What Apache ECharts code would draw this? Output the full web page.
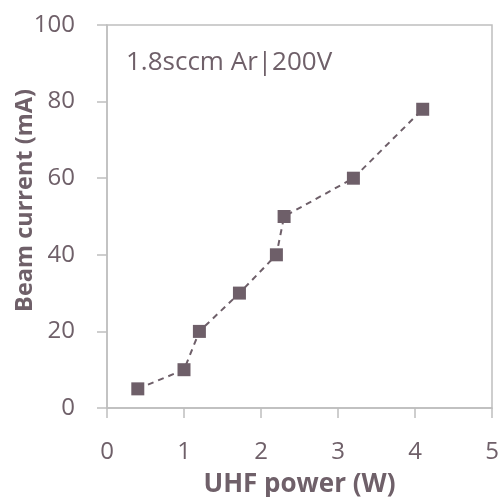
<!DOCTYPE html>
<html><head><meta charset="utf-8">
<script src="https://cdn.jsdelivr.net/npm/echarts@6/dist/echarts.min.js"></script>
<style>html,body{margin:0;padding:0;background:#fff}#c{width:499px;height:497px}</style>
</head><body><div id="c"></div>
<script>
const powerW = [0.4, 1.0, 1.2, 1.72, 2.2, 2.3, 3.2, 4.1];
const beamCurrent = [5, 10, 20, 30, 40, 50, 60, 78];
const annotation = '1.8sccm Ar|200V';
const xName = 'UHF power (W)';
const yName = 'Beam current (mA)';

const txt = '#6f6069';
const axisC = '#bfbfbf';
const font = '"Open Sans", "Noto Sans", sans-serif';
const chart = echarts.init(document.getElementById('c'));
chart.setOption({
  animation: false,
  grid: {left: 107, top: 25, right: 7, bottom: 89, outerBoundsMode: 'none', containLabel: false,
         show: true, borderColor: axisC, borderWidth: 1.5},
  xAxis: {
    type: 'value', min: 0, max: 5, interval: 1,
    name: xName, nameLocation: 'middle', nameGap: 64, nameMoveOverlap: false,
    nameTextStyle: {color: txt, fontSize: 26, fontWeight: 'bold', fontFamily: font},
    axisLine: {lineStyle: {color: axisC, width: 1.5}},
    axisTick: {show: true, inside: false, length: 10, lineStyle: {color: axisC, width: 1.5}},
    axisLabel: {color: txt, fontSize: 24, fontFamily: font, margin: 32},
    splitLine: {show: false}
  },
  yAxis: {
    type: 'value', min: 0, max: 100, interval: 20,
    name: yName, nameLocation: 'middle', nameGap: 70, nameMoveOverlap: false,
    nameTextStyle: {color: txt, fontSize: 23.5, fontWeight: 'bold', fontFamily: font, padding: [0, 0, 0, 32]},
    axisLine: {show: true, lineStyle: {color: axisC, width: 1.5}},
    axisTick: {show: true, inside: false, length: 10, lineStyle: {color: axisC, width: 1.5}},
    axisLabel: {color: txt, fontSize: 24, fontFamily: font, margin: 32},
    splitLine: {show: false}
  },
  graphic: [{
    type: 'text', left: 126, top: 50,
    style: {text: annotation, fill: txt, fontSize: 26, fontFamily: font}
  }],
  series: [{
    type: 'line',
    data: powerW.map((x, i) => [x, beamCurrent[i]]),
    symbol: 'rect', symbolSize: 13,
    itemStyle: {color: '#6e5f69'},
    lineStyle: {color: '#6e5f69', width: 2, type: [6, 5]}
  }]
});
</script></body></html>
